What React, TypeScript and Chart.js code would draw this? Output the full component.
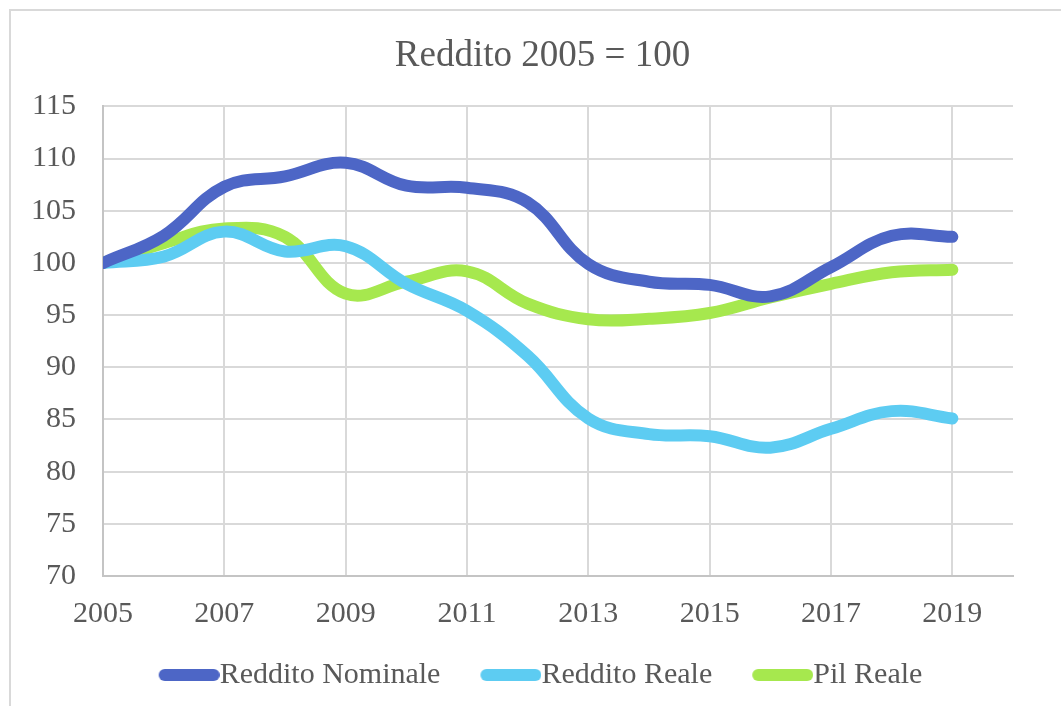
import React, { useEffect, useRef } from 'react';
import { Chart, registerables } from 'chart.js';

Chart.register(...registerables);

const years = [2005, 2006, 2007, 2008, 2009, 2010, 2011, 2012, 2013, 2014, 2015, 2016, 2017, 2018, 2019];
const xTickYears = [2005, 2007, 2009, 2011, 2013, 2015, 2017, 2019];
const yTickValues = [70, 75, 80, 85, 90, 95, 100, 105, 110, 115];
const redditoNominale = [100, 102.6, 107.3, 108.3, 109.6, 107.4, 107.2, 105.8, 99.9, 98.2, 97.9, 96.8, 99.6, 102.6, 102.5];
const redditoReale = [100, 100.6, 103.0, 101.1, 101.6, 98.0, 95.4, 91.1, 85.1, 83.6, 83.4, 82.3, 84.1, 85.8, 85.1];
const pilReale = [100, 101.9, 103.3, 102.5, 97.05, 98.2, 99.2, 96.1, 94.6, 94.65, 95.2, 96.7, 98.0, 99.1, 99.35];
const seriesNames = ['Reddito Nominale', 'Reddito Reale', 'Pil Reale'];
const seriesColors = ['#4D66C6', '#5DCCF2', '#A6E84E'];
const titleText = 'Reddito 2005 = 100';

const FONT = 'Liberation Serif';
const TEXT_COLOR = '#595959';

// legend swatch image: visible rounded bar sits just left of the label text
function legendSwatch(color: string): HTMLCanvasElement {
  const c = document.createElement('canvas');
  c.width = 108;
  c.height = 14;
  const g = c.getContext('2d')!;
  g.strokeStyle = color;
  g.lineWidth = 12;
  g.lineCap = 'round';
  g.beginPath();
  g.moveTo(53, 7);
  g.lineTo(102, 7);
  g.stroke();
  return c;
}

const framePlugin = {
  id: 'frame',
  beforeDraw(chart: any) {
    const { ctx, width, height } = chart;
    ctx.save();
    ctx.fillStyle = '#ffffff';
    ctx.fillRect(0, 0, width, height);
    ctx.strokeStyle = '#d9d9d9';
    ctx.lineWidth = 2;
    ctx.beginPath();
    ctx.moveTo(10, height + 5);
    ctx.lineTo(10, 10);
    ctx.lineTo(width + 5, 10);
    ctx.stroke();
    ctx.restore();
  },
};

// Excel centres title/legend on the whole chart box, not on the plot layout band
const shiftPlugin = {
  id: 'shiftBoxes',
  afterLayout(chart: any) {
    const t = chart.titleBlock;
    if (t) { t.left += 34; t.right += 34; }
    const l = chart.legend;
    if (l) { l.left += 16; l.right += 16; }
  },
};

export default function App() {
  const ref = useRef<HTMLCanvasElement>(null);

  useEffect(() => {
    const series = [redditoNominale, redditoReale, pilReale];
    const chart = new Chart(ref.current!, {
      type: 'line',
      data: {
        datasets: series.map((vals, i) => ({
          label: seriesNames[i],
          data: years.map((y, j) => ({ x: y, y: vals[j] })),
          borderColor: seriesColors[i],
          backgroundColor: seriesColors[i],
          borderWidth: 12,
          borderCapStyle: 'round',
          borderJoinStyle: 'round',
          tension: 0.4,
          pointRadius: 0,
          pointHoverRadius: 0,
          pointStyle: legendSwatch(seriesColors[i]),
          fill: false,
        })),
      },
      options: {
        responsive: false,
        animation: false,
        layout: { padding: { left: 4, right: 48, top: 0, bottom: 6 } },
        plugins: {
          tooltip: { enabled: false },
          title: {
            display: true,
            text: titleText,
            color: TEXT_COLOR,
            font: { family: FONT, size: 37, weight: 'normal' },
            padding: { top: 34, bottom: 28 },
          },
          legend: {
            position: 'bottom',
            labels: {
              usePointStyle: true,
              pointStyleWidth: 78,
              color: TEXT_COLOR,
              font: { family: FONT, size: 30 },
              padding: 8,
            },
          },
        },
        scales: {
          x: {
            type: 'linear',
            min: 2005,
            max: 2020,
            afterBuildTicks: (scale: any) => {
              scale.ticks = xTickYears.map((v) => ({ value: v }));
            },
            ticks: {
              color: TEXT_COLOR,
              font: { family: FONT, size: 30 },
              padding: 20,
              maxRotation: 0,
              autoSkip: false,
              callback: (v: any) => String(v),
            },
            grid: { color: '#d9d9d9', lineWidth: 2, drawTicks: false },
            border: { color: '#c4c4c4', width: 2 },
          },
          y: {
            min: 70,
            max: 115,
            afterBuildTicks: (scale: any) => {
              scale.ticks = yTickValues.map((v) => ({ value: v }));
            },
            ticks: {
              color: TEXT_COLOR,
              font: { family: FONT, size: 30 },
              padding: 27,
              autoSkip: false,
              callback: (v: any) => String(v),
            },
            grid: { color: '#d9d9d9', lineWidth: 2, drawTicks: false },
            border: { color: '#c4c4c4', width: 2 },
          },
        },
      },
      plugins: [framePlugin, shiftPlugin],
    });
    return () => chart.destroy();
  }, []);

  return (
    <div style={{ position: 'fixed', left: 0, top: 0, width: 1061, height: 706, background: '#fff' }}>
      <canvas ref={ref} width={1061} height={706} style={{ display: 'block' }} />
    </div>
  );
}
